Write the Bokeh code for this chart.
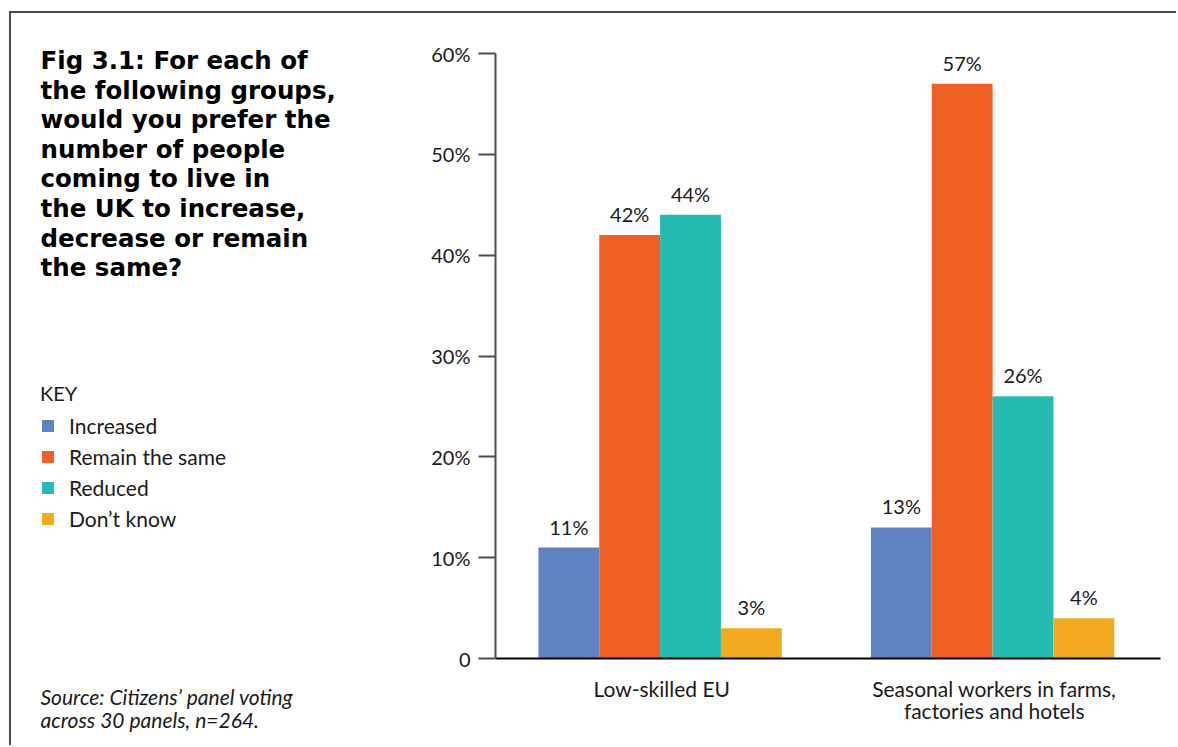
from bokeh.plotting import figure
from bokeh.layouts import row
from bokeh.models import (Range1d, Label, Legend, LegendItem,
                          ColumnDataSource, FixedTicker)
from bokeh.core.properties import value
from bokeh.embed import file_html
from bokeh.resources import INLINE

# ---------------- data ----------------
categories = ["Low-skilled EU", "Seasonal workers in farms,\nfactories and hotels"]
series_names = ["Increased", "Remain the same", "Reduced", "Don\u2019t know"]
increased = [11, 13]
remain_same = [42, 57]
reduced = [44, 26]
dont_know = [3, 4]
series_colors = ["#6283c2", "#f05f23", "#24bcb2", "#f2aa20"]
y_ticks = [0, 10, 20, 30, 40, 50, 60]
y_tick_labels = ["0", "10%", "20%", "30%", "40%", "50%", "60%"]

title_lines = [
    "Fig 3.1: For each of",
    "the following groups,",
    "would you prefer the",
    "number of people",
    "coming to live in",
    "the UK to increase,",
    "decrease or remain",
    "the same?",
]
key_title = "KEY"
source_lines = ["Source: Citizens\u2019 panel voting", "across 30 panels, n=264."]

FONT = "Lato"
TXT = "#1a1a1a"
RULE = "#4a4a4a"

# page geometry (content starts inside a ruled box at OX, OY)
OX, OY = 11, 13
PAGE_W, PAGE_H = 1176, 745
H = PAGE_H - OY
SPLIT = 420                      # left text panel | chart figure
LEFT_W = SPLIT - OX
CHART_W = PAGE_W - SPLIT

# ---------------- left panel (text) ----------------
pl = figure(width=LEFT_W, height=H, x_range=Range1d(OX, SPLIT),
            y_range=Range1d(PAGE_H, OY),
            x_axis_location=None, y_axis_location=None,
            output_backend="svg", toolbar_location=None,
            min_border=0, min_border_left=0, min_border_right=0,
            min_border_top=0, min_border_bottom=0)
pl.outline_line_color = None
pl.xgrid.visible = False
pl.ygrid.visible = False

for j, line in enumerate(title_lines):
    pl.add_layout(Label(x=40, y=60 + j * 29.6, text=line,
                        text_font="DejaVu Sans", text_font_style="bold",
                        text_font_size="24.5px", text_color="black",
                        text_baseline="alphabetic", text_align="left"))

for j, line in enumerate(source_lines):
    pl.add_layout(Label(x=40, y=696 + j * 23, text=line,
                        text_font=FONT, text_font_style="italic",
                        text_font_size="21px", text_color=TXT,
                        text_baseline="alphabetic", text_align="left"))

# legend proxies (zero-size bars, only their legend swatches are visible)
legend_renderers = [pl.vbar(x=[OX], top=[OY], bottom=[OY], width=0,
                            fill_color=c, line_color=None)
                    for c in series_colors]
legend = Legend(items=[LegendItem(label=n, renderers=[r])
                       for n, r in zip(series_names, legend_renderers)],
                location=(40 - OX, PAGE_H - 532), title=key_title,
                title_text_font=FONT, title_text_font_size="20px",
                title_text_font_style="normal", title_text_color=TXT,
                title_standoff=6,
                label_text_font=FONT, label_text_font_size="21px",
                label_text_color=TXT, label_standoff=14, label_height=28,
                glyph_width=15, glyph_height=15, spacing=3,
                padding=0, margin=0, background_fill_alpha=0,
                border_line_color=None)
pl.add_layout(legend, "center")

# ---------------- chart ----------------
keys = ["s0", "s1", "s2", "s3"]
series_values = [increased, remain_same, reduced, dont_know]
data = {"xc": [i + 0.5 for i in range(len(categories))], "cat": categories,
        "zero": [0] * len(categories)}
bw = 0.183
for i, (k, vals) in enumerate(zip(keys, series_values)):
    off = (i - 1.5) * bw - 0.005
    data[k] = vals
    data[k + "_x"] = [x + off for x in data["xc"]]
    data[k + "_lbl"] = [f"{v}%" for v in vals]
src = ColumnDataSource(data)

px_per_unit = 605 / 60.0          # vertical scale of the value axis
axis_y = 658                      # pixel row of the zero line
frame_left = 495
x_px_per_unit = 332.5
y_start = -(PAGE_H - axis_y) / px_per_unit
y_end = (axis_y - OY) / px_per_unit
x_end = (PAGE_W - frame_left) / x_px_per_unit

p = figure(width=CHART_W, height=H,
           x_range=Range1d(0, x_end), y_range=Range1d(y_start, y_end),
           x_axis_location=None,
           output_backend="svg", toolbar_location=None,
           min_border_left=frame_left - SPLIT, min_border_right=0,
           min_border_top=0, min_border_bottom=0)
p.outline_line_color = None
p.xgrid.visible = False
p.ygrid.visible = False

for k, c in zip(keys, series_colors):
    p.vbar(x=k + "_x", top=k, width=bw, source=src, fill_color=c, line_color=None)
    p.text(x=k + "_x", y=k, text=k + "_lbl", source=src,
           text_align="center", text_baseline="alphabetic", y_offset=-21,
           text_font=value(FONT), text_font_size="20px", text_color=TXT)

# zero line (category axis line)
p.segment(x0=0, x1=len(categories), y0=0, y1=0, line_color="black", line_width=2)

# category labels
p.text(x="xc", y="zero", text="cat", source=src, text_align="center",
       text_baseline="top", y_offset=17, text_line_height=0.9,
       text_font=value(FONT), text_font_size="21px", text_color=TXT)

ya = p.yaxis[0]
ya.ticker = FixedTicker(ticks=y_ticks)
ya.bounds = (y_ticks[0], y_ticks[-1])
ya.major_label_overrides = {t: l for t, l in zip(y_ticks, y_tick_labels)}
ya.axis_line_color = "#4d4d4d"
ya.axis_line_width = 2
ya.major_tick_line_color = "#4d4d4d"
ya.major_tick_line_width = 2
ya.major_tick_out = 17
ya.major_tick_in = 0
ya.minor_tick_line_color = None
ya.major_label_text_font = FONT
ya.major_label_text_font_size = "20px"
ya.major_label_text_color = TXT
ya.major_label_standoff = 8

layout = row(pl, p, spacing=0,
             styles={"margin-top": f"{OY - 2}px", "margin-left": f"{OX - 2}px",
                     "border-top": f"2px solid {RULE}",
                     "border-left": f"2px solid {RULE}"})
open("out.html", "w").write(file_html(layout, INLINE))
